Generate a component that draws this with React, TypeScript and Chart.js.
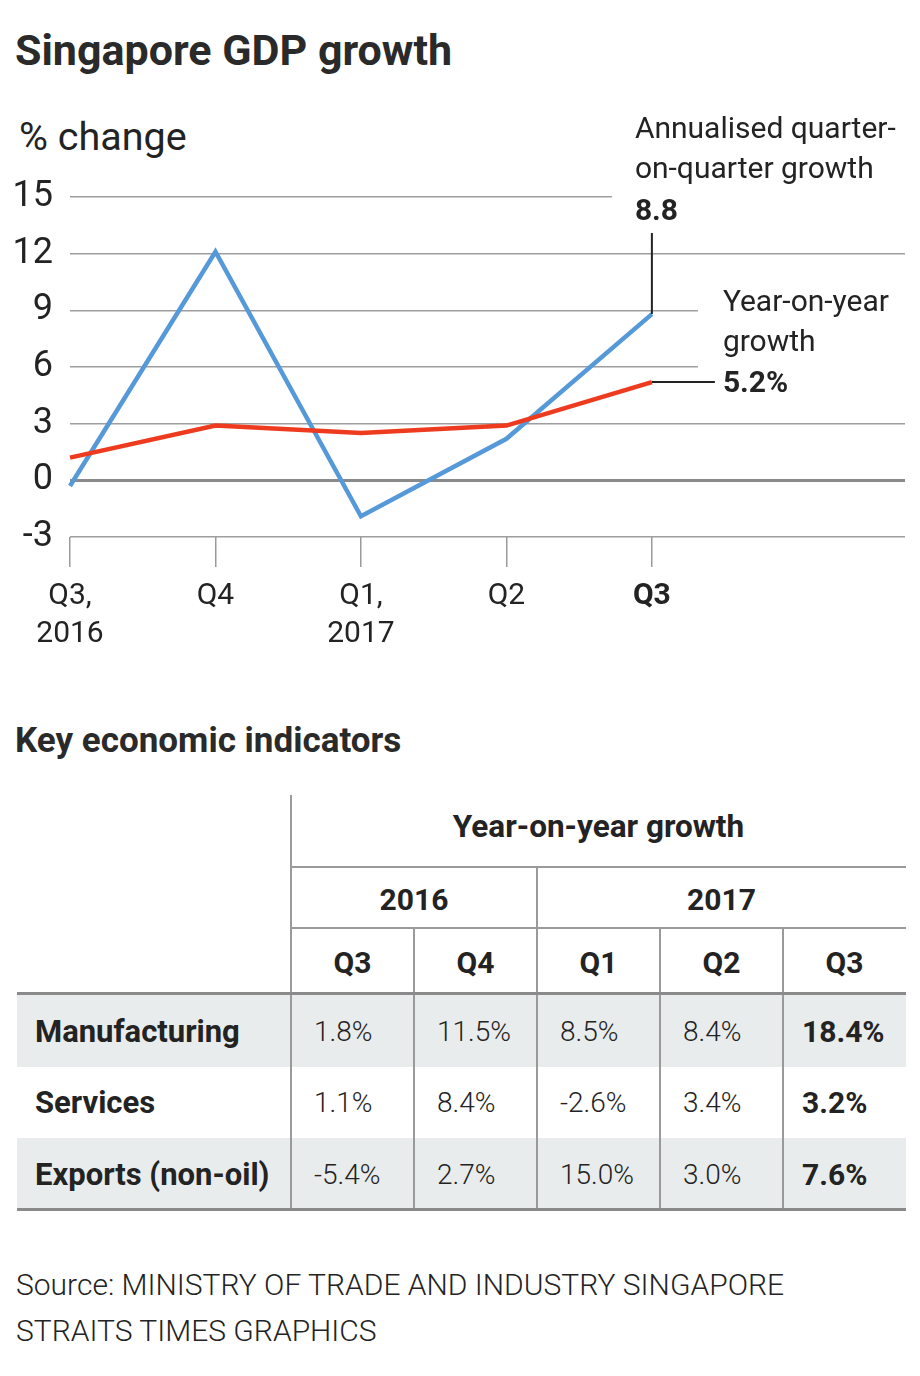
import React, { useEffect, useRef } from "react";
import { Chart, registerables } from "chart.js";

Chart.register(...registerables);

const FONT = "Roboto";
const INK = "#232323";

// ---- chart data ----
const quarterLabels: (string | string[])[] = [["Q3,", "2016"], "Q4", ["Q1,", "2017"], "Q2", "Q3"];
const qoqGrowth = [-0.3, 12.1, -1.9, 2.2, 8.8];
const yoyGrowth = [1.2, 2.9, 2.5, 2.9, 5.2];
const yTickValues = [-3, 0, 3, 6, 9, 12, 15];
const qoqLabel = ["Annualised quarter-", "on-quarter growth"];
const qoqValueLabel = "8.8";
const yoyLabel = ["Year-on-year", "growth"];
const yoyValueLabel = "5.2%";

// ---- table data ----
const tableHeader = "Year-on-year growth";
const tableYears = ["2016", "2017"];
const tableQuarters = ["Q3", "Q4", "Q1", "Q2", "Q3"];
const indicatorNames = ["Manufacturing", "Services", "Exports (non-oil)"];
const manufacturingGrowth = ["1.8%", "11.5%", "8.5%", "8.4%", "18.4%"];
const servicesGrowth = ["1.1%", "8.4%", "-2.6%", "3.4%", "3.2%"];
const exportsGrowth = ["-5.4%", "2.7%", "15.0%", "3.0%", "7.6%"];
const sourceLines = ["Source: MINISTRY OF TRADE AND INDUSTRY SINGAPORE", "STRAITS TIMES GRAPHICS"];

const CANVAS_TOP = 100;
const CANVAS_H = 580;

const annotationPlugin = {
  id: "gdpAnnotations",
  beforeDatasetsDraw(chart: any) {
    const { ctx } = chart;
    const xs = chart.scales.x;
    const ys = chart.scales.y;
    const qx = xs.getPixelForValue(quarterLabels.length - 1);
    ctx.save();
    ctx.fillStyle = "#ffffff";
    // clear grid behind the annotation text blocks
    ctx.fillRect(qx - 40, ys.getPixelForValue(15) - 90, 400, 125);
    ctx.fillRect(qx + 46, ys.getPixelForValue(9) - 25, 400, 115);
    ctx.restore();
  },
  afterDatasetsDraw(chart: any) {
    const { ctx } = chart;
    const xs = chart.scales.x;
    const ys = chart.scales.y;
    const last = quarterLabels.length - 1;
    const qx = xs.getPixelForValue(last);
    const blueY = ys.getPixelForValue(qoqGrowth[last]);
    const redY = ys.getPixelForValue(yoyGrowth[last]);
    ctx.save();
    ctx.strokeStyle = INK;
    ctx.lineWidth = 2;
    ctx.beginPath();
    ctx.moveTo(qx, 133);
    ctx.lineTo(qx, blueY);
    ctx.moveTo(qx, redY);
    ctx.lineTo(qx + 63, redY);
    ctx.stroke();

    ctx.fillStyle = INK;
    ctx.textBaseline = "alphabetic";
    ctx.textAlign = "left";
    ctx.font = `400 30px ${FONT}`;
    ctx.fillText(qoqLabel[0], qx - 17, 38);
    ctx.fillText(qoqLabel[1], qx - 17, 78);
    ctx.font = `700 30px ${FONT}`;
    ctx.fillText(qoqValueLabel, qx - 17, 120);

    ctx.font = `400 30px ${FONT}`;
    ctx.fillText(yoyLabel[0], qx + 71, redY - 71);
    ctx.fillText(yoyLabel[1], qx + 71, redY - 31);
    ctx.font = `700 30px ${FONT}`;
    ctx.fillText(yoyValueLabel, qx + 71, redY + 10);
    ctx.restore();
  },
};

function GdpChart() {
  const ref = useRef<HTMLCanvasElement | null>(null);
  useEffect(() => {
    if (!ref.current) return;
    const chart = new Chart(ref.current, {
      type: "line",
      data: {
        datasets: [
          {
            label: "Year-on-year growth",
            data: yoyGrowth.map((v, i) => ({ x: i, y: v })),
            borderColor: "#ee3b1f",
            backgroundColor: "#ee3b1f",
            borderWidth: 4.5,
            pointRadius: 0,
            tension: 0,
            clip: false as any,
          },
          {
            label: "Annualised quarter-on-quarter growth",
            data: qoqGrowth.map((v, i) => ({ x: i, y: v })),
            borderColor: "#5699d9",
            backgroundColor: "#5699d9",
            borderWidth: 4.5,
            pointRadius: 0,
            tension: 0,
            clip: false as any,
          },
        ],
      },
      options: {
        animation: false,
        responsive: false,
        devicePixelRatio: 1,
        layout: { padding: { left: 0, right: 15, top: 97, bottom: 3 } },
        plugins: { legend: { display: false }, tooltip: { enabled: false } },
        scales: {
          x: {
            type: "linear",
            min: 0,
            max: 5.74,
            afterBuildTicks: (s: any) => {
              s.ticks = quarterLabels.map((_, i) => ({ value: i }));
            },
            afterFit: (s: any) => {
              s.height = 140;
            },
            ticks: {
              autoSkip: false,
              maxRotation: 0,
              minRotation: 0,
              padding: 10,
              color: INK,
              callback: (v: any) => quarterLabels[v as number],
              font: (c: any) => ({
                family: FONT,
                size: 30,
                weight: c.index === quarterLabels.length - 1 ? "bold" : "normal",
                lineHeight: 1.27,
              }),
            },
            grid: { drawOnChartArea: false, drawTicks: true, tickLength: 30, color: "#9a9a9a", lineWidth: 1.5 },
            border: { display: false },
          },
          y: {
            min: -3,
            max: 15,
            afterBuildTicks: (s: any) => {
              s.ticks = yTickValues.map((v) => ({ value: v }));
            },
            afterFit: (s: any) => {
              s.width = 70;
            },
            ticks: {
              padding: 17,
              color: INK,
              font: { family: FONT, size: 36, weight: "normal" },
              callback: (v: any) => String(v),
            },
            grid: {
              drawTicks: false,
              tickLength: 0,
              color: (c: any) => (c.tick && c.tick.value === 0 ? "#8a8a8a" : "#9e9e9e"),
              lineWidth: (c: any) => (c.tick && c.tick.value === 0 ? 3 : 1.5),
            },
            border: { display: false },
          },
        },
      } as any,
      plugins: [annotationPlugin],
    });
    return () => chart.destroy();
  }, []);
  return (
    <canvas
      ref={ref}
      width={920}
      height={CANVAS_H}
      style={{ position: "absolute", left: 0, top: CANVAS_TOP, width: 920, height: CANVAS_H }}
    />
  );
}

// text placed by baseline
function Txt(props: {
  x: number;
  base: number;
  size: number;
  weight?: number;
  align?: "left" | "center";
  width?: number;
  color?: string;
  children: React.ReactNode;
}) {
  const { x, base, size, weight = 400, align = "left", width = 0, color = INK } = props;
  const top = base - 0.842 * size;
  const style: React.CSSProperties = {
    position: "absolute",
    top,
    fontFamily: FONT,
    fontSize: size,
    fontWeight: weight,
    lineHeight: `${size}px`,
    whiteSpace: "nowrap",
    color,
  };
  if (align === "center") {
    style.left = x - width / 2;
    style.width = width;
    style.textAlign = "center";
  } else {
    style.left = x;
  }
  return <div style={style}>{props.children}</div>;
}

function Rect(props: { x: number; y: number; w: number; h: number; c: string }) {
  return (
    <div
      style={{ position: "absolute", left: props.x, top: props.y, width: props.w, height: props.h, background: props.c }}
    />
  );
}

function IndicatorTable() {
  const rows = [manufacturingGrowth, servicesGrowth, exportsGrowth];
  const colLeft = [291, 414, 537, 660, 783];
  const colW = 123;
  const rowTop = [995, 1067, 1138];
  const rowBase = [1042, 1113, 1185];
  const line = "#9a9a9a";
  const thick = "#8a8a8a";
  const shade = "#e9ecec";
  return (
    <>
      <Rect x={17} y={rowTop[0]} w={889} h={72} c={shade} />
      <Rect x={17} y={rowTop[2]} w={889} h={70} c={shade} />
      <Rect x={290} y={795} w={2} h={415} c={line} />
      <Rect x={291} y={866} w={615} h={2} c={line} />
      <Rect x={536} y={866} w={2} h={344} c={line} />
      <Rect x={291} y={927} w={615} h={2} c={line} />
      <Rect x={413} y={927} w={2} h={283} c={line} />
      <Rect x={659} y={927} w={2} h={283} c={line} />
      <Rect x={782} y={927} w={2} h={283} c={line} />
      <Rect x={17} y={992} w={889} h={3} c={thick} />
      <Rect x={17} y={1208} w={889} h={3} c={thick} />

      <Txt x={598.5} base={838} size={31.5} weight={700} align="center" width={600}>
        {tableHeader}
      </Txt>
      <Txt x={414} base={910} size={30} weight={700} align="center" width={240}>
        {tableYears[0]}
      </Txt>
      <Txt x={721.5} base={910} size={30} weight={700} align="center" width={360}>
        {tableYears[1]}
      </Txt>
      {tableQuarters.map((q, i) => (
        <Txt key={"q" + i} x={colLeft[i] + colW / 2} base={973} size={30} weight={700} align="center" width={colW}>
          {q}
        </Txt>
      ))}
      {indicatorNames.map((n, r) => (
        <Txt key={"n" + r} x={35} base={rowBase[r]} size={31} weight={700}>
          {n}
        </Txt>
      ))}
      {rows.map((vals, r) =>
        vals.map((v, i) => (
          <Txt
            key={"v" + r + "-" + i}
            x={colLeft[i] + (i === vals.length - 1 ? 19 : 23)}
            base={rowBase[r]}
            size={i === vals.length - 1 ? 30 : 28}
            weight={i === vals.length - 1 ? 700 : 300}
          >
            {v}
          </Txt>
        ))
      )}
    </>
  );
}

export default function App() {
  return (
    <div
      style={{
        position: "absolute",
        left: 0,
        top: 0,
        width: 920,
        height: 1376,
        background: "#ffffff",
        overflow: "hidden",
        fontFamily: FONT,
      }}
    >
      <Txt x={15} base={65} size={43} weight={700} color="#2a2a2a">
        Singapore GDP growth
      </Txt>
      <Txt x={19} base={150} size={39.5} weight={400}>
        % change
      </Txt>
      <GdpChart />
      <Txt x={15} base={752} size={35} weight={700} color="#2a2a2a">
        Key economic indicators
      </Txt>
      <IndicatorTable />
      <Txt x={16} base={1295} size={30} weight={300}>
        {sourceLines[0]}
      </Txt>
      <Txt x={16} base={1341} size={30} weight={300}>
        {sourceLines[1]}
      </Txt>
    </div>
  );
}
